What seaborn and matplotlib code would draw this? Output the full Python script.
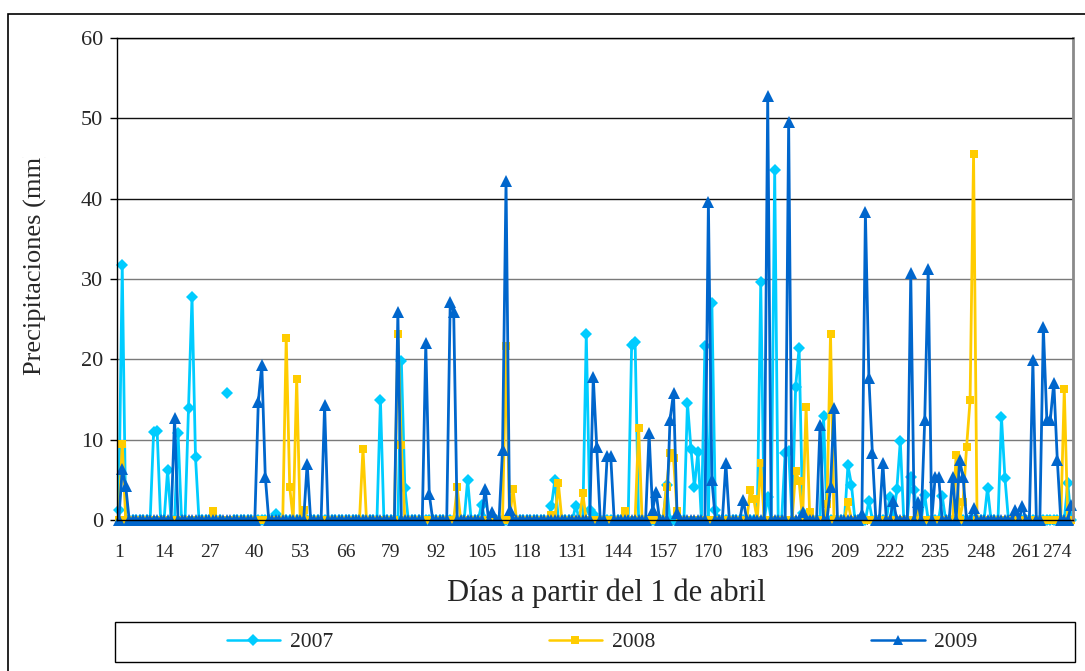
import numpy as np
import pandas as pd
import matplotlib
matplotlib.use("Agg")
import matplotlib.pyplot as plt
import seaborn as sns
from matplotlib.patches import Rectangle
from matplotlib.lines import Line2D
from matplotlib.transforms import Bbox

# ---- data: daily precipitation (mm), days counted from 1 April ----
n_days = 274
days = np.arange(1, n_days + 1)

rain_days_2007 = [1, 2, 11, 12, 15, 18, 21, 22, 23, 32, 46, 76, 82, 83, 101, 105,
                  125, 126, 132, 135, 136, 137, 148, 149, 158, 164, 165, 166, 167,
                  169, 171, 172, 185, 187, 189, 192, 193, 195, 196, 197, 203, 210,
                  211, 216, 222, 224, 225, 228, 229, 232, 237, 250, 254, 255, 273]
rain_mm_2007 = [1.2, 31.7, 11.0, 11.1, 6.2, 10.8, 14.0, 27.8, 7.8, 15.8, 0.7, 15.0,
                19.8, 4.0, 5.0, 1.9, 1.7, 5.0, 1.8, 23.2, 1.2, 0.8, 21.8, 22.1, 4.3,
                14.6, 8.9, 4.1, 8.5, 21.6, 27.0, 1.3, 29.6, 2.9, 43.6, 8.4, 8.6, 16.6,
                21.4, 0.9, 12.9, 6.8, 4.4, 2.4, 2.9, 3.8, 9.8, 5.3, 3.7, 3.1, 3.0,
                4.0, 12.8, 5.2, 4.6]
missing_2007 = [31, 33]

rain_days_2008 = [2, 28, 49, 50, 52, 54, 71, 81, 82, 98, 112, 114, 125, 127, 134,
                  146, 150, 158, 159, 160, 161, 182, 183, 185, 195, 196, 198, 199,
                  204, 205, 210, 230, 241, 243, 244, 245, 246, 272]
rain_mm_2008 = [9.5, 1.1, 22.7, 4.1, 17.6, 1.2, 8.9, 23.2, 9.3, 4.1, 21.7, 3.9, 0.6,
                4.6, 3.3, 1.1, 11.5, 4.1, 8.3, 7.7, 1.1, 3.7, 2.6, 7.1, 6.1, 4.8,
                14.1, 1.0, 2.0, 23.2, 2.2, 1.2, 8.1, 2.3, 9.1, 14.9, 45.5, 16.3]
missing_2008 = []

rain_days_2009 = [2, 3, 17, 41, 42, 43, 55, 60, 81, 89, 90, 96, 97, 106, 108, 111,
                  112, 113, 137, 138, 141, 142, 153, 154, 155, 159, 160, 161, 170,
                  171, 175, 180, 187, 193, 197, 202, 205, 206, 214, 215, 216, 217,
                  220, 223, 228, 230, 232, 233, 235, 236, 240, 242, 243, 246, 258,
                  260, 263, 266, 267, 268, 269, 270, 274]
rain_mm_2009 = [6.3, 4.2, 12.7, 14.7, 19.3, 5.4, 7.0, 14.3, 25.9, 22.0, 3.2, 27.1,
                25.9, 3.9, 1.0, 8.7, 42.2, 1.2, 17.8, 9.1, 8.0, 8.0, 10.8, 1.2, 3.5,
                12.5, 15.8, 0.9, 39.6, 5.0, 7.1, 2.5, 52.8, 49.6, 1.0, 11.8, 4.1,
                13.9, 0.8, 38.3, 17.7, 8.3, 7.1, 2.4, 30.7, 2.3, 12.4, 31.3, 5.4,
                5.4, 5.4, 7.5, 5.3, 1.5, 1.2, 1.7, 19.9, 24.0, 12.5, 12.5, 17.1,
                7.5, 1.9]
missing_2009 = []

years = ["2007", "2008", "2009"]
tick_days = list(range(1, n_days + 1, 13))
y_ticks = [0, 10, 20, 30, 40, 50, 60]

colors = {"2007": "#00CCFF", "2008": "#FFCC00", "2009": "#0066CC"}
markers = {"2007": "D", "2008": "s", "2009": "^"}
marker_sizes = {"D": 6.5, "s": 6.2, "^": 8.5}


def build_series(rain_days, rain_mm, missing):
    mm = np.zeros(n_days)
    mm[np.array(rain_days) - 1] = rain_mm
    if missing:
        mm[np.array(missing) - 1] = np.nan
    return mm


series = {
    "2007": build_series(rain_days_2007, rain_mm_2007, missing_2007),
    "2008": build_series(rain_days_2008, rain_mm_2008, missing_2008),
    "2009": build_series(rain_days_2009, rain_mm_2009, missing_2009),
}

# long table; a new segment starts after every missing day so gaps stay open
frames = []
for year in years:
    mm = series[year]
    seg = np.cumsum(np.isnan(mm))
    part = pd.DataFrame({"day": days, "mm": mm, "year": year,
                         "segment": [f"{year}-{s}" for s in seg]})
    frames.append(part.dropna())
df = pd.concat(frames, ignore_index=True)

# ---- figure ----
sns.set_theme(style="white")
plt.rcParams["font.family"] = ["Liberation Serif", "DejaVu Serif"]

W, H = 1085, 671
fig = plt.figure(figsize=(W / 100, H / 100), dpi=100)
fig.patch.set_facecolor("white")

left, right, top, bottom = 117, 1073, 38, 520
ax = fig.add_axes([left / W, 1 - bottom / H, (right - left) / W, (bottom - top) / H])
ax.set_facecolor("white")

sns.lineplot(data=df, x="day", y="mm", hue="year", style="year", units="segment",
             estimator=None, markers=markers, dashes=False, palette=colors,
             linewidth=2.0, markeredgewidth=0, legend=False, sort=True, ax=ax)

for ln in ax.lines:
    m = ln.get_marker()
    if m in marker_sizes:
        ln.set_markersize(marker_sizes[m])
    ln.set_clip_on(False)

ax.set_xlim(0.5, n_days + 0.5)
ax.set_ylim(0, 60)

# x axis: labels every 13 days, small tick marks between all days
ax.set_xticks(tick_days)
ax.set_xticklabels([str(d) for d in tick_days], fontsize=14)
# the last label ends at its tick so it stays inside the plot frame
ax.get_xticklabels()[-1].set_horizontalalignment("right")
ax.set_xticks(np.arange(0.5, n_days + 1, 1), minor=True)
ax.tick_params(axis="x", which="major", length=0, pad=17)
ax.tick_params(axis="x", which="minor", length=3, width=0.8, color="black",
               direction="out", bottom=True)

ax.set_yticks(y_ticks)
ax.set_yticklabels([str(v) for v in y_ticks], fontsize=16)
ax.tick_params(axis="y", which="major", length=5, width=1, color="black",
               direction="out", left=True, pad=5)

ax.set_xlabel("Días a partir del 1 de abril", fontsize=22)
ax.xaxis.set_label_coords((606 - left) / (right - left), -(593 - bottom) / (bottom - top))
ax.xaxis.label.set_verticalalignment("center")
ax.set_ylabel("")

# horizontal gridlines
ax.grid(axis="y", linewidth=1.0)
ax.grid(axis="x", visible=False)
ax.set_axisbelow(True)
for val, gl in zip(y_ticks, ax.yaxis.get_gridlines()):
    gl.set_color("#111111" if val >= 40 else "#7a7a7a")

for side in ["left", "bottom", "top"]:
    ax.spines[side].set_color("black")
    ax.spines[side].set_linewidth(1.0)
ax.spines["right"].set_color("#8a8a8a")
ax.spines["right"].set_linewidth(2.0)

# y-axis title, cut by the chart frame as in the original layout
ylab = fig.text(35 / W, 1 - 262 / H, "Precipitaciones (mm)", rotation=90,
                ha="center", va="center", fontsize=19)
clip_box = Bbox.from_extents(0, 0, W, H - 157)
ylab.set_clip_box(clip_box)
ylab.set_clip_on(True)

# legend box with three entries
leg_x0, leg_x1, leg_y0, leg_y1 = 115, 1075, 622, 662
fig.patches.append(Rectangle((leg_x0 / W, 1 - leg_y1 / H), (leg_x1 - leg_x0) / W,
                             (leg_y1 - leg_y0) / H, transform=fig.transFigure,
                             fill=False, edgecolor="black", linewidth=1.0))
handles = [Line2D([], [], color=colors[y], marker=markers[y], linewidth=1.8,
                  markersize=marker_sizes[markers[y]] * 0.9, markeredgewidth=0)
           for y in years]
fig.legend(handles, years, loc="center", bbox_to_anchor=(602 / W, 1 - 642 / H),
           ncol=3, frameon=False, fontsize=15.5, handlelength=2.5,
           handletextpad=0.45, columnspacing=10.0)

# outer chart frame
fig.patches.append(Rectangle((8 / W, -0.02), 1.05, 1 - 14 / H + 0.02,
                             transform=fig.transFigure, fill=False,
                             edgecolor="black", linewidth=1.2))

fig.savefig("out.png", dpi=100, facecolor="white")
